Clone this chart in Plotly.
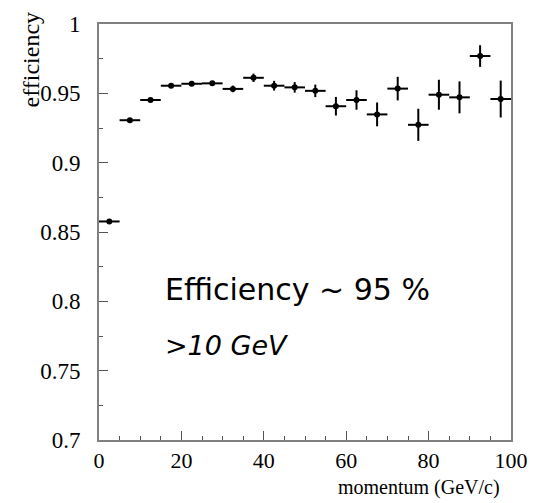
import plotly.graph_objects as go

momentum = [2.5, 7.5, 12.5, 17.5, 22.5, 27.5, 32.5, 37.5, 42.5, 47.5,
            52.5, 57.5, 62.5, 67.5, 72.5, 77.5, 82.5, 87.5, 92.5, 97.5]
efficiency = [0.8576, 0.9306, 0.9452, 0.9555, 0.9569, 0.9572, 0.9532, 0.9612, 0.9555, 0.9543,
              0.9518, 0.9407, 0.9452, 0.9348, 0.9534, 0.9273, 0.9490, 0.9471, 0.9769, 0.9459]
eff_err = [0.0008, 0.0008, 0.0009, 0.0012, 0.0014, 0.0017, 0.0024, 0.0030, 0.0035, 0.0038,
           0.0045, 0.0067, 0.0070, 0.0086, 0.0085, 0.0116, 0.0108, 0.0115, 0.0078, 0.0133]
bin_half = [2.5] * len(momentum)

x_ticks = [0, 20, 40, 60, 80, 100]
y_ticks = [0.7, 0.75, 0.8, 0.85, 0.9, 0.95, 1.0]
y_tick_labels = ["0.7", "0.75", "0.8", "0.85", "0.9", "0.95", "1"]

fig = go.Figure()
fig.add_trace(go.Scatter(
    x=momentum, y=efficiency, mode="markers",
    marker=dict(color="black", size=6),
    error_x=dict(type="data", array=bin_half, color="black", thickness=2, width=0),
    error_y=dict(type="data", array=eff_err, color="black", thickness=2, width=0),
    showlegend=False,
))

axis_common = dict(
    showgrid=False, zeroline=False, showline=True, linecolor="#808080", linewidth=2,
    mirror=True, ticks="inside", ticklen=9, tickwidth=1, tickcolor="#555",
)

fig.update_xaxes(range=[0, 100], tickvals=x_ticks, ticklabelstandoff=0,
                 tickfont=dict(family="Liberation Serif", size=22, color="black"),
                 minor=dict(dtick=5, ticks="inside", ticklen=4, tickcolor="#555"),
                 **axis_common)
fig.update_yaxes(range=[0.7, 1.0], tickvals=y_ticks, ticktext=y_tick_labels,
                 ticklabelstandoff=12,
                 tickfont=dict(family="Liberation Serif", size=23, color="black"),
                 minor=dict(dtick=0.025, ticks="inside", ticklen=4, tickcolor="#555"),
                 **axis_common)

fig.add_annotation(text="efficiency", xref="paper", yref="paper",
                   x=-0.165, y=1.035, xanchor="center", yanchor="top", textangle=-90,
                   showarrow=False, font=dict(family="Liberation Serif", size=24, color="black"))
fig.add_annotation(text="momentum (GeV/c)", xref="paper", yref="paper",
                   x=0.975, y=-0.145, xanchor="right", yanchor="bottom", borderpad=0,
                   showarrow=False, font=dict(family="Liberation Serif", size=20, color="black"))
fig.add_annotation(text="Efficiency ~ 95 %", xref="paper", yref="paper",
                   x=(163 - 99) / 412, y=(440 - 286) / 425, xanchor="left", yanchor="middle",
                   showarrow=False, font=dict(family="DejaVu Sans", size=30, color="black"))
fig.add_annotation(text="<i>>10 GeV</i>", xref="paper", yref="paper",
                   x=(163 - 99) / 412, y=(440 - 343) / 425, xanchor="left", yanchor="middle",
                   showarrow=False, font=dict(family="DejaVu Sans", size=27, color="black"))

fig.update_layout(width=543, height=503, margin=dict(l=99, r=32, t=15, b=63),
                  plot_bgcolor="white", paper_bgcolor="white")

fig.write_html("out.html")
